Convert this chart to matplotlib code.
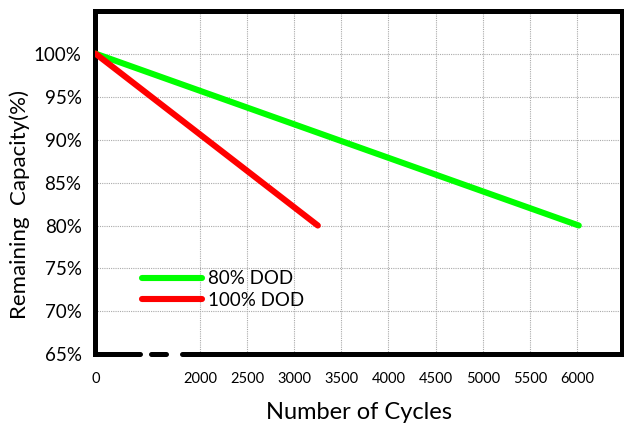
import numpy as np
import matplotlib.pyplot as plt
from matplotlib.lines import Line2D

# Data
cycles_80 = [0, 6020]
capacity_80 = [100, 80]
cycles_100 = [0, 3250]
capacity_100 = [100, 80]

x_ticks = [0, 2000, 2500, 3000, 3500, 4000, 4500, 5000, 5500, 6000]
y_ticks = [65, 70, 75, 80, 85, 90, 95, 100]
y_labels = [f"{v}%" for v in y_ticks]

# Broken x axis: 0..2000 squeezed into a short stretch
BREAK = 2000
OFFSET = 890
SLOPE = (BREAK - OFFSET) / BREAK


def fwd(x):
    x = np.asarray(x, dtype=float)
    return np.where(x < BREAK, OFFSET + x * SLOPE, x)


def inv(u):
    u = np.asarray(u, dtype=float)
    return np.where(u < BREAK, (u - OFFSET) / SLOPE, u)


plt.rcParams['font.family'] = ['Lato', 'DejaVu Sans']

fig = plt.figure(figsize=(6.24, 4.26), dpi=100)
ax = fig.add_axes([0.153, 0.168, 0.844, 0.807])
ax.set_xscale('function', functions=(fwd, inv))
ax.set_xlim(0, 6480)
ax.set_ylim(65, 105)

ax.plot(cycles_80, capacity_80, color='#00ff00', lw=4.4,
        solid_capstyle='round', label='80% DOD', zorder=3)
ax.plot(cycles_100, capacity_100, color='#ff0000', lw=4.4,
        solid_capstyle='round', label='100% DOD', zorder=3)

ax.set_xticks(x_ticks)
ax.set_xticklabels([str(v) for v in x_ticks], fontsize=10.5)
ax.set_yticks(y_ticks)
ax.set_yticklabels(y_labels, fontsize=13.5)
ax.tick_params(axis='both', length=0)
ax.tick_params(axis='x', pad=13)
ax.tick_params(axis='y', pad=10)

# dotted grid, skipping the 0 column
for v in x_ticks[1:]:
    ax.axvline(v, color='#aaaaaa', lw=0.8, ls=(0, (1, 1)), zorder=1)
for v in y_ticks[1:]:
    ax.axhline(v, color='#aaaaaa', lw=0.8, ls=(0, (1, 1)), zorder=1)

for side in ['left', 'top', 'right']:
    ax.spines[side].set_linewidth(3.6)
    ax.spines[side].set_color('black')
ax.spines['bottom'].set_visible(False)

# dashed bottom spine marking the axis break
for x0, x1 in [(0.0, 0.0836), (0.1045, 0.133), (0.165, 1.0)]:
    ax.add_line(Line2D([x0, x1], [0, 0], transform=ax.transAxes, color='black',
                       lw=3.6, solid_capstyle='round', clip_on=False, zorder=5))

ax.set_xlabel('Number of Cycles', fontsize=17, labelpad=11)
ax.set_ylabel('Remaining  Capacity(%)', fontsize=16)
ax.yaxis.set_label_coords(-0.125, 0.435)

ax.legend(loc='upper left', bbox_to_anchor=(0.088, 0.245), frameon=False,
          fontsize=13.5, handlelength=3.2, handletextpad=0.35,
          labelspacing=0.25, borderpad=0, borderaxespad=0)

fig.savefig('out.png', dpi=100)
